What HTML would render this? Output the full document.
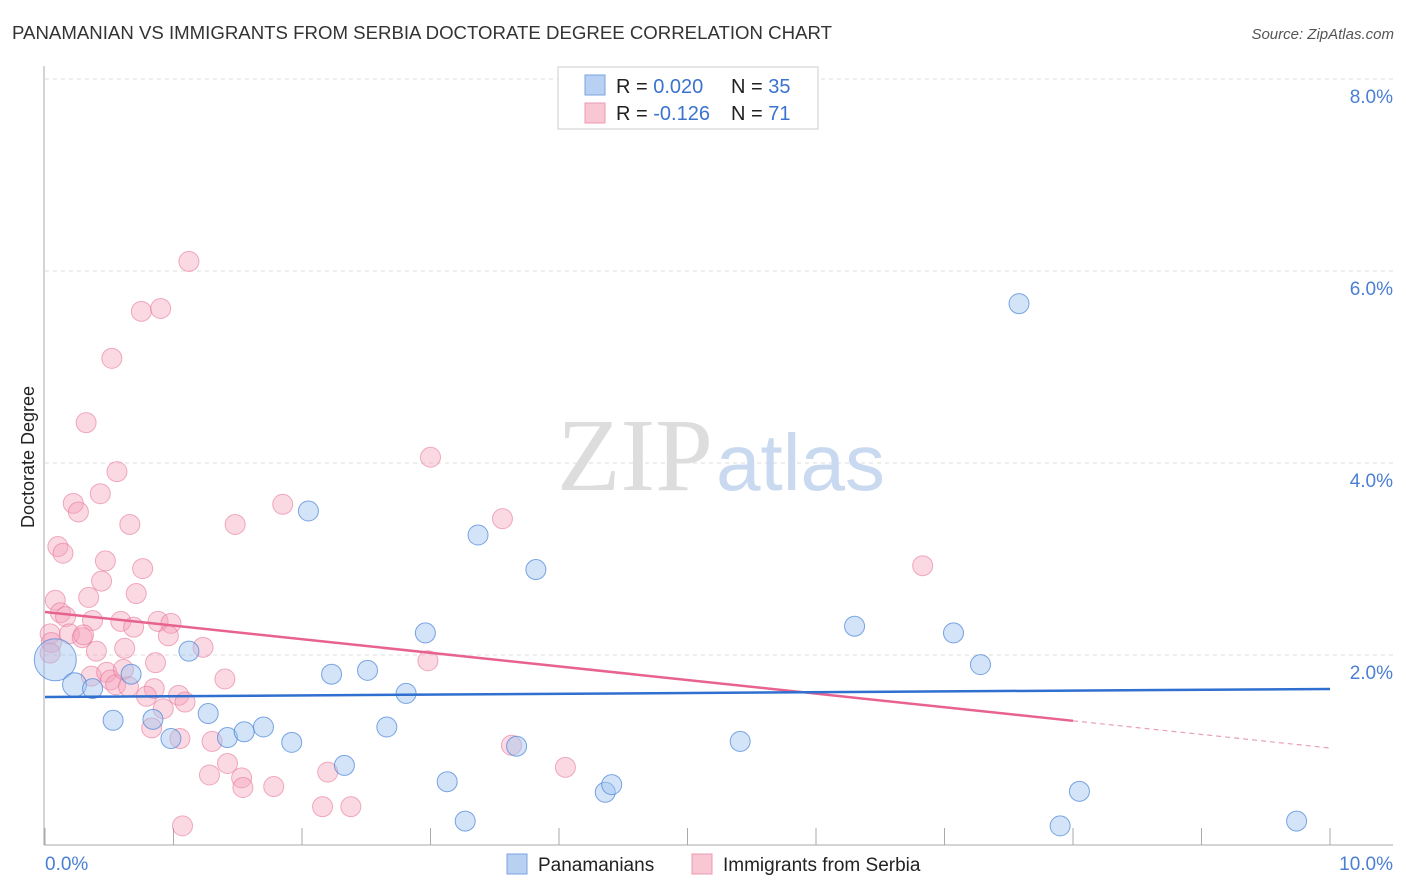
<!DOCTYPE html>
<html><head><meta charset="utf-8"><style>
body{margin:0;background:#fff;font-family:"Liberation Sans",sans-serif;}
#wrap{position:relative;width:1406px;height:892px;overflow:hidden;}
</style></head><body>
<div id="wrap">
<svg id="svg" width="1406" height="892" xmlns="http://www.w3.org/2000/svg">
<text x="12" y="39" font-size="18" fill="#333" textLength="820" lengthAdjust="spacingAndGlyphs">PANAMANIAN VS IMMIGRANTS FROM SERBIA DOCTORATE DEGREE CORRELATION CHART</text>
<text x="1394" y="39" font-size="15" fill="#555" font-style="italic" text-anchor="end">Source: ZipAtlas.com</text>
<text x="34" y="457" font-size="18" fill="#222" text-anchor="middle" transform="rotate(-90 34 457)">Doctorate Degree</text>
<g id="grid"></g>
<text x="713" y="490" font-size="104" fill="#ddd" font-family="Liberation Serif,serif" text-anchor="end">ZIP</text>
<text x="716" y="490" font-size="80" fill="#c9d9f0">atlas</text>
<g id="marks"></g>
<g>
<rect x="558" y="67" width="260" height="62" fill="#fff" stroke="#ccc"/>
<rect x="585" y="75" width="20" height="20" fill="#b8d0f2" stroke="#7aa3e0"/>
<rect x="585" y="103" width="20" height="20" fill="#f9c6d4" stroke="#ec9ab2"/>
<text x="616" y="93" font-size="20" fill="#222">R = <tspan fill="#3b73d1">0.020</tspan><tspan x="731">N = </tspan><tspan fill="#3b73d1">35</tspan></text>
<text x="616" y="120" font-size="20" fill="#222">R = <tspan fill="#3b73d1">-0.126</tspan><tspan x="731">N = </tspan><tspan fill="#3b73d1"> 71</tspan></text>
</g>
<g>
<rect x="507" y="854" width="20" height="20" fill="#b8d0f2" stroke="#7aa3e0"/>
<text x="538" y="871" font-size="19" fill="#222">Panamanians</text>
<rect x="692" y="854" width="20" height="20" fill="#f9c6d4" stroke="#ec9ab2"/>
<text x="723" y="871" font-size="19" fill="#222">Immigrants from Serbia</text>
</g>
</svg>
</div>
<script>
const yTicks=[2,4,6,8];
const yTickLabels=["2.0%","4.0%","6.0%","8.0%"];
const xTickLabels=["0.0%","10.0%"];
const blueX=[0.08,0.23,0.37,0.53,0.67,0.84,0.98,1.12,1.27,1.42,1.55,1.70,1.92,2.05,2.23,2.33,2.51,2.66,2.81,2.96,3.13,3.27,3.37,3.67,3.82,4.36,4.41,5.41,6.30,7.07,7.28,7.58,7.90,8.05,9.74];
const blueY=[1.95,1.69,1.65,1.32,1.80,1.33,1.13,2.04,1.39,1.14,1.20,1.25,1.09,3.50,1.80,0.85,1.84,1.25,1.60,2.23,0.68,0.27,3.25,1.05,2.89,0.57,0.65,1.10,2.30,2.23,1.90,5.66,0.22,0.58,0.27];
const blueR=[21,12,10,10,10,10,10,10,10,10,10,10,10,10,10,10,10,10,10,10,10,10,10,10,10,10,10,10,10,10,10,10,10,10,10];
const pinkX=[1.12,0.75,0.90,0.52,0.32,0.56,3.00,3.56,6.83,0.22,0.26,0.43,0.66,1.48,1.85,0.10,0.14,0.47,0.76,0.44,0.34,0.71,0.08,0.12,0.16,0.37,0.59,0.69,0.88,0.98,0.96,0.04,0.19,0.29,0.30,0.05,0.04,0.40,0.62,1.23,0.86,1.40,0.36,0.48,0.51,0.55,0.61,0.65,0.85,0.79,1.04,1.09,0.92,0.83,1.05,1.30,1.42,1.28,1.53,1.54,1.78,2.16,2.38,1.07,2.20,2.98,3.63,4.05];
const pinkY=[6.10,5.58,5.61,5.09,4.42,3.91,4.06,3.42,2.93,3.58,3.49,3.68,3.36,3.36,3.57,3.13,3.06,2.98,2.90,2.77,2.60,2.64,2.57,2.44,2.40,2.36,2.35,2.29,2.35,2.33,2.20,2.22,2.22,2.18,2.21,2.13,2.02,2.04,2.07,2.08,1.92,1.75,1.78,1.82,1.74,1.69,1.85,1.67,1.65,1.57,1.58,1.51,1.44,1.24,1.13,1.10,0.87,0.75,0.72,0.62,0.63,0.42,0.42,0.22,0.78,1.94,1.06,0.83];
const blueTrend=[1.5625,1.646];
const pinkTrend=[2.448,1.031];
const pinkSolidEnd=8.0;
const X0=45,X1=1330,Y0=847,PX=(X1-X0)/10,PY=96;
const xs=v=>X0+v*PX, ys=v=>Y0-v*PY;
const NS="http://www.w3.org/2000/svg";
function mk(parent,tag,attrs){const e=document.createElementNS(NS,tag);for(const k in attrs)e.setAttribute(k,attrs[k]);parent.appendChild(e);return e;}
const grid=document.getElementById('grid'),marks=document.getElementById('marks');
yTicks.forEach((t,i)=>{
 const l=mk(grid,'line',{x1:45,x2:1393,y1:ys(t),y2:ys(t),stroke:'#ddd','stroke-dasharray':'4,4'});
 
 
 const tx=mk(grid,'text',{x:1393,y:ys(t)+24,'font-size':19,fill:'#4a7fd4','text-anchor':'end'});
 tx.textContent=yTickLabels[i];
 
 
});
const ax=mk(grid,'line',{x1:44,x2:44,y1:66,y2:845,stroke:'#aaa'});


const bx=mk(grid,'line',{x1:44,x2:1393,y1:845,y2:845,stroke:'#aaa'});


for(let i=0;i<=10;i++){
 const t=mk(grid,'line',{x1:xs(i),x2:xs(i),y1:828,y2:845,stroke:'#aaa'});
 
 
}
[[0,'start',45],[10,'end',1393]].forEach((a,i)=>{
 const tx=mk(grid,'text',{x:a[2],y:870,'font-size':19,fill:'#4a7fd4','text-anchor':a[1]});
 tx.textContent=xTickLabels[i];
 
 
});
pinkX.forEach((x,i)=>{
 const c=mk(marks,'circle',{cx:xs(x),cy:ys(pinkY[i]),r:10,fill:'rgba(244,160,185,0.4)',stroke:'rgba(230,120,155,0.6)','stroke-width':1});
 
 
});
blueX.forEach((x,i)=>{
 const c=mk(marks,'circle',{cx:xs(x),cy:ys(blueY[i]),r:blueR[i],fill:'rgba(160,195,240,0.45)',stroke:'rgba(70,130,215,0.7)','stroke-width':1});
 
 
});
const py=v=>pinkTrend[0]+(pinkTrend[1]-pinkTrend[0])*v/10;
const pl=mk(marks,'line',{x1:xs(0),y1:ys(pinkTrend[0]),x2:xs(pinkSolidEnd),y2:ys(py(pinkSolidEnd)),stroke:'#e8628f','stroke-width':2.5});


const pd=mk(marks,'line',{x1:xs(pinkSolidEnd),y1:ys(py(pinkSolidEnd)),x2:xs(10),y2:ys(pinkTrend[1]),stroke:'#e8a0b8','stroke-width':1.2,'stroke-dasharray':'5,4'});


const bl=mk(marks,'line',{x1:xs(0),y1:ys(blueTrend[0]),x2:xs(10),y2:ys(blueTrend[1]),stroke:'#2f6fcf','stroke-width':2.5});


</script>
</body></html>
